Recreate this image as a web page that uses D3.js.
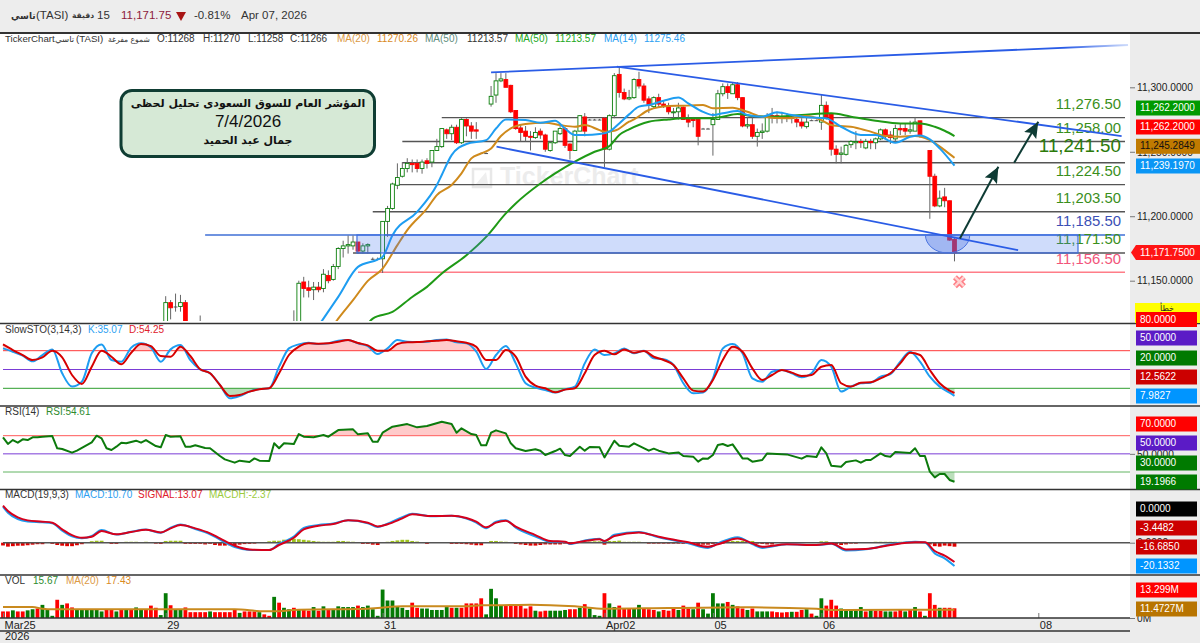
<!DOCTYPE html>
<html>
<head>
<meta charset="utf-8">
<script src="https://cdn.jsdelivr.net/npm/d3@7"></script>
<style>
  html, body { margin: 0; padding: 0; background: #ececec; }
  svg { display: block; }
  text { font-family: "Liberation Sans", Arial, sans-serif; }
  text.ar { font-family: "DejaVu Sans", sans-serif; }
</style>
</head>
<body>
<div id="chart"></div>
<script>
// date axis
var dateBars = [0, 33, 77, 122, 144, 166, 210];
var dateLabels = ['Mar25', '29', '31', 'Apr02', '05', '06', '08'];

// candles, first value belongs to bar 33, null = below the visible range
var firstCandleBar = 33;
var opens = [
  11114,11133,11130,11130,11133,null,null,11112,null,null,
  null,null,null,null,null,null,null,null,null,null,
  null,null,null,null,null,null,11105,11110,11149,11144.5,
  11143,11145,11144,11154,11151,11161,11175,11177,11177,11180,
  11173,11177,11167,11167,11167,11196,11206,11224,11231,11237,
  11241,11241,11237,11243,11242,11251,11254,11267,11264,11269,
  11257,11275,11270,11267,11249,11249,11287,11294,11305,11306,
  11301.5,11282,11268.5,11266,11262,11261,11266,11263,11251,11257,
  11264,11268,11256,11251,11266,11277,11275,11275,11275,11276,
  11252,11278,11310,11296,11291,11292,11306,11301,11291,11285,
  11292,11287,11285.5,11280.5,11281,11284.5,11275,11275,11275,11268,
  11268,11271,11275,11295,11300.5,11295,11302,11292,11270,11271,
  11262,11265,11266,11278,11278,11277,11277,11277,11275,11273,
  11269.5,11274.5,11274.5,11273,11286,11279,11252,11248,11248,11255.5,
  11257,11258,11253,11258,11257,11260,11267,11263,11260,11268,
  11268,11266,11266,11274,null,11251,11231,11208,11215,11212,
  11182
];
var highs = [
  11138,11135,11140,11139,11135,null,null,11123,null,null,
  null,null,null,null,null,null,null,null,null,null,
  null,null,null,null,null,null,11127,11150,11153,11150,
  11149,11149,11159,11158,11163,11176,11181,11185,11185,11180,
  11179,11179,11168,11168,11196,11208,11226,11241,11242,11245,
  11244,11244,11244,11245,11251,11260,11268,11268,11271,11271,
  11276,11276,11273,11273,11249.5,11249.5,11301,11311,11311,11311,
  11302,11282,11271,11270,11266,11269,11268,11264,11258,11266,
  11270,11269.5,11256.5,11267,11278.5,11280,11275.5,11275.5,11275.5,11277,
  11279,11311,11316,11299,11298,11307,11312,11303,11293,11293,
  11295,11290,11288,11284,11288,11285,11279,11277,11276,11268.5,
  11268.5,11280,11298,11303,11303,11304,11304,11292,11277,11277,
  11268,11272,11280,11284,11281,11281,11280,11279,11277,11276,
  11277,11275,11275,11294,11289,11279,11255,11254,11256,11259,
  11266,11260,11260,11260,11261,11268,11268,11266,11271,11272,
  11272,11274,11277,11274,null,11251,11233,11220,11222,11212,
  11183
];
var lows = [
  11110,11120,11126,11126,11110,null,null,11108,null,null,
  null,null,null,null,null,null,null,null,null,null,
  null,null,null,null,null,null,11100,11105,11137,11137,
  11135,11141,11141,11148,11150,11159,11168,11171,11174,11171,
  11171,11171,11166,11166,11156,11184,11205,11221,11230,11234,
  11234,11234,11233,11237,11238,11251,11253,11260,11259,11256,
  11256,11262,11260,11260,11248.5,11248.5,11285,11288,11304,11300,
  11280,11267,11258,11258,11251,11260,11260,11250,11250,11256,
  11263,11253,11244,11251,11266,11262,11274.5,11274.5,11274.5,11238,
  11251,11276,11292,11290,11290,11291,11299,11288,11280,11284,
  11284,11284,11279,11275,11275,11275,11269,11269,11255,11267.5,
  11267.5,11247,11275,11293,11291,11295,11290,11269,11268,11260,
  11254,11260,11265,11272,11272,11272,11273,11272,11269,11268,
  11268,11274,11274,11267,11275,11247,11241,11241,11247,11253,
  11252,11253,11252,11252,11252,11259,11260,11256,11257,11263,
  11263,11264,11266,11261,null,11198,11207,11207,11207,11181,
  11165
];
var closes = [
  11133,11129,11130,11133,11112,null,null,11114,null,null,
  null,null,null,null,null,null,null,null,null,null,
  null,null,null,null,null,null,11110,11148,11144,11142.5,
  11145,11143,11155,11150,11161,11175,11177,11178,11180,11173,
  11177,11178,11167,11167,11196,11206,11225,11230,11237,11241,
  11240,11237,11242,11241,11251,11254,11268,11264,11269,11257,
  11275,11270,11266,11266,11249,11249,11293,11305,11306.5,11300,
  11281,11268,11265,11262,11261.5,11265,11263,11252,11257,11266,
  11268,11255,11251,11266,11278,11266,11275,11275,11275,11252,
  11278,11309,11296,11291,11292,11306,11301,11290,11286,11292,
  11287,11285.5,11281,11281,11284,11275,11273,11274.5,11262,11268,
  11268,11275,11295,11300.5,11296,11302,11292,11270,11271,11262,
  11265,11266,11278,11277,11277,11276.5,11276,11276,11273,11270,
  11273,11274.5,11274.5,11286,11277,11252,11248,11249,11255,11258,
  11258,11257,11258,11257,11260,11267,11262,11261,11268,11267,
  11266,11267,11273,11262,null,11231,11208,11214,11212,11181.5,
  11171.75
];

// moving averages on the price panel
var ma14Bars = [62,65,68,72,76,77,79,84,88,89,91,94,98,100,102,106,109,112,114,116,118,121,123,125,127,129,131,134,137,139,142,144,146,149,151,154,157,160,163,167,170,174,177,181,184,186,188,190,193];
var ma14Vals = [11103.8,11120.6,11137.5,11160.7,11166.4,11168.5,11185.3,11203.4,11224.2,11232,11247.4,11256,11259,11268,11275,11274.6,11272.5,11274,11268,11263,11263,11263.7,11265.6,11272,11279,11285,11286.3,11289.6,11292,11287.6,11281,11278.5,11279.8,11281.6,11278.5,11277.2,11280.6,11278.5,11276.7,11275.9,11269.4,11263,11263,11257,11261.7,11262.7,11259.6,11252.6,11239.2];
var ma20Bars = [65,68,71,74,77,80,82,86,88,91,93,95,97,99,101,103,106,110,113,116,118,121,122,124,127,128,131,135,138,142,144,148,151,154,159,163,166,168,173,176,179,182,185,188,191,193];
var ma20Vals = [11103.8,11120.6,11134.9,11149.9,11159.4,11177.6,11189.2,11206,11216.4,11224.2,11233.2,11244.9,11248.7,11252.6,11262.2,11268.1,11271.5,11272.5,11270.7,11269.4,11270.7,11266.8,11265.6,11266.3,11273.3,11275.1,11282.4,11285.5,11285.7,11286.3,11283.7,11284.2,11281,11277.2,11275.9,11277.7,11274.6,11270.7,11268.7,11265.6,11262.2,11261.7,11262.2,11259.1,11251.3,11245.28];
var ma50Bars = [72,75,79,83,86,89,94,98,102,104,109,112,116,120,123,125,127,131,135,138,143,146,149,152,156,162,168,172,177,182,186,189,191,193];
var ma50Vals = [11103.8,11120.6,11125.8,11137.4,11145.2,11155.6,11169.8,11184,11202.2,11209.9,11225.4,11233.2,11242.3,11250,11254.4,11263,11267.4,11273.3,11275.1,11275.9,11275.9,11277.2,11279.3,11277.7,11277.2,11278.5,11279.8,11277.2,11274.1,11272,11272,11269.4,11266.3,11262.2];

// price levels drawn on the chart
var levelPrices = [11276.5, 11258, 11241.5, 11224.5, 11203.5, 11185.5, 11171.5, 11156.5];
var levelStartBars = [89, 81, 81, 80, 75, 41, 71, 72];
var levelLabels = ['11,276.50', '11,258.00', '11,241.50', '11,224.50', '11,203.50', '11,185.50', '11,171.50', '11,156.50'];

// drawn trend lines and arrows, in bars and prices: [bar1, price1, bar2, price2]
var trendLines = [
  [99, 11311.6, 228.2, 11332.8],
  [124.5, 11316, 226.9, 11262.2],
  [100.1, 11253.9, 205.9, 11173.7]
];
var arrows = [
  [194.1, 11182.8, 201.9, 11238.4],
  [205.1, 11241.5, 210, 11273.3]
];

// stochastic, every second bar and the last one
var stoBars = d3.range(0, 193, 2).concat(193);
var kVals = [
  83.7,78.4,72,63,73.1,82.1,43.9,22.7,30.6,75.8,
  90,65.1,62.5,84.8,91.7,85.3,62.5,82.1,89,65.1,
  50.3,43.9,25.3,4.1,7.8,14.7,18.9,20,54.5,83.7,
  90.1,92.7,90.6,91.7,95.9,97,91.7,87.4,74.7,83.7,
  97,94.3,93.8,94.3,97,98,93.3,91.7,78.4,50.8,
  73.1,87.4,59.8,28,21,17.3,13.1,18.4,22.7,59.8,
  82.1,73.1,75.8,83.7,75.8,80,67.8,66.2,57.2,28,
  12,13.1,35.9,83.7,90.6,75.8,35.9,30.6,46.5,49.2,
  43.9,37.5,43.9,65.1,54.5,14.7,22.7,28,29,38.6,
  42.8,62.5,78.4,62.5,38.6,22.7,13.1,7.98
];
var dVals = [
  90.1,81.1,73.1,65.1,69.4,80,69.4,41.2,26.9,54.5,
  80,70.4,58.2,76.8,90.6,87.4,71.5,70.4,86.4,71.5,
  50.3,43.9,25.3,7.8,9.4,14.7,18.4,20,43.9,73.1,
  86.4,91.7,91.2,91.7,94.3,97,92.2,88.5,80,80,
  90.6,93.3,93.8,94.9,95.9,97,94.9,92.7,86.4,65.1,
  65.1,81.1,70.4,38.6,24.2,20,13.6,17.9,20,43.9,
  73.1,80,74.2,82.1,76.8,79.5,70.4,65.1,57.2,35.9,
  16.3,14.7,33.3,65.1,86.4,78.4,51.9,33.3,41.2,49.2,
  45,39.6,41.2,54.5,57.2,28,22.7,29,29.6,35.9,
  43.9,59.8,76.8,73.1,49.2,28,16.3,12.56
];

// RSI
var rsiBars = [0,1,2,3,4,5,6,7,8,10,11,12,14,15,18,19,20,21,22,23,24,25,27,28,29,31,32,33,34,36,37,38,39,41,42,44,45,47,48,50,51,52,54,55,56,57,59,60,61,63,65,66,68,71,72,74,75,76,77,79,82,84,86,89,91,92,93,95,96,97,98,99,100,
  102,103,104,106,108,109,110,112,113,114,115,117,118,119,121,122,124,125,127,128,131,132,133,135,137,138,140,141,142,143,144,145,146,147,148,150,151,152,154,155,159,162,163,165,166,167,168,170,171,173,174,175,176,178,179,180,181,184,185,186,187,188,189,190,191,192,193];
var rsiVals = [68.2,60.9,65.2,62.3,66,65.2,68.2,68.2,68.9,69.6,56.1,55.3,51.3,53.5,62.7,70,67.1,56.1,54.2,57.9,62.3,61.6,64.5,62.3,65.2,58.6,57.2,70.7,68.9,69.3,57.9,57.9,59.4,56.4,56.1,47.6,43.9,40.3,42.5,41,45,42.5,42.1,61.6,56.1,61.6,60.8,71.8,68.9,68.2,70.7,68.9,76.2,77,71.5,72.6,63.4,63.4,73.3,79.9,82.8,79.2,80.6,85.4,82.8,73.3,78.1,71.8,70.7,59.4,59.4,73.3,75.9,
  72.6,61.6,56.1,53.1,55,53.5,48.7,53.1,55.7,48.7,47.6,57.9,53.5,57.5,57.2,46.1,64.5,59,57.9,61.6,53.5,55.7,53.5,50.5,51.6,47.6,46.9,41.4,45,44.7,48.7,59.7,60.8,58.6,60.5,45,45,41.4,43.2,50.5,49.4,44.7,47.6,46.5,57.2,50.5,37,35.9,41,42.8,40.3,43.2,43.2,50.5,47.6,46.9,52,50.9,56.1,47.6,47.6,30.4,24.1,27.8,27.8,21.2,19.2];

// MACD
var macdBars = [0,1,3,5,8,10,12,14,16,18,20,23,26,29,32,34,36,39,42,44,47,50,54,56,59,61,64,67,70,74,76,78,81,83,87,91,94,96,98,100,
  102,104,108,111,114,115,118,121,122,124,129,133,139,143,145,149,152,154,159,165,168,171,175,180,185,187,189,191,193];
var macdVals = [31,25.9,20.5,18.4,17.6,16.8,10.5,5.5,3.8,5.8,11,7,9.4,11.4,8.5,13,15.8,11.8,7.3,2.7,-3.8,-6.2,-6.3,-1,5.2,12.8,15.3,16.5,19.5,16.8,13.5,16.5,22,25,22.9,23.3,20.8,17.4,12.5,18.2,
  19.4,13,5.4,0.8,0.7,-1.2,2,3.4,1,6.8,9.2,4.6,-0.4,-4.5,-0.6,4.8,-1.2,-4.5,-1.4,-2,-1,-6.8,-5.7,-1.6,0.9,0.1,-9.2,-13.5,-20.13];
var signalVals = [32,27.4,21.9,19.3,18.2,17.3,11.5,6.6,4.3,5.2,10.1,7.2,9.2,11.2,8.9,12.4,15.3,12.4,8.1,3.7,-2.6,-5.8,-6.3,-2,4.3,11.5,14.7,16.1,19.3,17.3,14.1,15.9,21,24.5,23,23.3,21.3,18.2,13.3,17.3,
  19,13.8,6.6,1.4,0.9,-0.6,1.4,2.9,1.4,5.8,8.9,5.2,0.3,-3.5,-1.4,3.7,-0.6,-3.5,-1.4,-2,-0.6,-5.8,-5.5,-2,0.3,0.3,-7.2,-11.2,-16.69];
var histVals = [
  -2.4,-3.4,-3,-2.6,-2.6,-2.2,-1.7,-1.3,-1.3,0,
  -1,-2,-2.6,-3,-3,-2.2,-1.3,0,1.3,1.7,
  1.7,0,-1,-1,0,0.8,0.8,0.8,0,0.8,
  0,-0.8,-1,1.5,1.7,1.7,1.7,-1,-1,-1,
  -1,-1.5,-1,-2,-2.5,-2.5,-2.2,-2.2,-1.7,-1.2,
  -1,-0.8,0,0,1.2,1.7,1.7,2.6,2.6,3.4,
  3,2.5,2,1.5,1,0.8,0.8,0.8,1.5,1.5,
  1,0.8,0,-1,-1,-1.7,-2,0,0.8,1.5,
  2,2.5,2.5,1.5,1,0,-1,0,0,0,
  0,-1,-1,-1,-1.3,-1.7,-2.2,-2.2,0,1.5,
  1.5,1,0.8,0,-1,-1.5,-2,-2.5,-2.5,-2,
  -1.5,-1.5,-1.5,-1.5,-0.8,0,-0.8,0,0.8,1,
  1.2,1.2,-1.7,1.5,1.5,1.8,0.8,0.8,0.8,0.8,
  0,-0.8,-0.8,-0.8,-0.8,-0.8,-0.8,-0.8,-1,-1,
  -1.7,-1.7,-1.7,-1.7,-1,-1,-0.8,1.5,1.5,1.5,
  1.5,1.5,1.5,-0.8,-1,-1.5,-1.5,0,0,0,
  0,0,0,0,0,0,1.2,1.2,-1,-1.5,
  -2,-1.5,-0.8,-0.8,0,0,0,0.8,0.8,0.8,
  0.8,0.8,0.8,0.8,0.8,0.8,0.8,0,-1.5,-3,
  -3.4,-2.5,-3,-3.45
];

// volume in millions, u = up bar, d = down bar
var volumes = [
  9,9,10.5,9,9,10.5,12,13,18,11,
  3,25,18,20,14.5,11,11,11,11,11,
  9,11,11,9,11,12,12,14.5,11,11,
  17,14,4,34,17.5,11,11,14.5,8,8,
  8,8,9,8,8,8,8,11,7,9,
  9,9,8,5,3,29,21,14,12,14,
  12,12,10,15,10,16,11,11,16,15,
  15,15,17,15,17,12,3,39,24,24,
  16,14,11,21,14,13,13,11,11,11,
  15,14,14,14,20,20,20,27,5,40,
  27,17,17,17,17,17,13,16,10,9,
  10,10,10,10,11,12,12,14,19,13,
  4,3,34,20,15,17,13,13,13,18,
  13,12,11,9,11,10,13,11,17,13,
  12,21,12,6,34,20,20,22,18,16,
  13,11,13,9,9,9,9,8,7.5,8,
  8.5,8.5,11,12,6,3,27,17,25,17,
  13,11,11,11,15,9,11,10,10,9,
  9,9,11,9,11,15,9,3,34,18,
  14,14,14,13.3
];
var volSides = [
  'ddudduuduu','ududduuuuu','uddududuud','dduuduuddd','ddudddddud',
  'ddudduduud','uddududuuu','uuduuuuuuu','uuudduuuuu','ududdddduu',
  'uuddddddud','duuuuddudu','uuduuddduu','dddudddudd','uduuuuudud',
  'duduuudddd','udduduuddd','uuuuududdu','uddudududd','uddd'
].join('');
var volMaBars = [0,6,8,10,47,53,55,60,74,76,81,94,97,100,107,116,122,135,152,165,168,182,193];
var volMaVals = [15,15,12.8,11.9,11.9,9.1,9.1,11.4,12.8,13.7,16,16,17.4,17.4,18.3,16,12.8,13.7,14.6,12.8,11,11.4,11.47];

// axis ticks and last value tags
var priceTicks = [11150, 11200, 11250, 11300];
var stoLevels = [80, 50, 20];
var rsiLevels = [70, 50, 30];

var width = 1200, height = 643;
var plotRight = 1130;
var svg = d3.select('#chart').append('svg').attr('width', width).attr('height', height);

var x = d3.scaleLinear().domain([0, 210]).range([3, 1038.3]);
var yPrice = d3.scaleLinear().domain([11150, 11300]).range([280.7, 87.3]);
var ySto = d3.scaleLinear().domain([20, 80]).range([388.3, 350.7]);
var yRsi = d3.scaleLinear().domain([30, 70]).range([472, 435.7]);
var yMacd = d3.scaleLinear().domain([-20.13, 0]).range([566, 542.7]);
var yVol = d3.scaleLinear().domain([0, 13.3]).range([618, 608.3]);

var levelColor = '#555';

// page background and panels
svg.append('rect').attr('width', width).attr('height', height).attr('fill', '#ececec');
svg.append('rect').attr('x', 0).attr('y', 34).attr('width', plotRight).attr('height', 584).attr('fill', '#fff');

var defs = svg.append('defs');
function addClip(id, top, bottom) {
  defs.append('clipPath').attr('id', id).append('rect')
    .attr('x', 0).attr('y', top).attr('width', plotRight).attr('height', bottom - top);
}
addClip('clip-price', 34, 321);
addClip('clip-sto-hi', 324, ySto(80));
addClip('clip-sto-lo', ySto(20), 406);
addClip('clip-rsi-hi', 407, yRsi(70));
addClip('clip-rsi-lo', yRsi(30), 489);

defs.append('marker').attr('id', 'arrowhead')
  .attr('markerUnits', 'userSpaceOnUse')
  .attr('viewBox', '0 0 16 14').attr('refX', 16).attr('refY', 7)
  .attr('markerWidth', 16).attr('markerHeight', 14).attr('orient', 'auto')
  .append('path').attr('d', 'M0,0 L16,7 L0,14 L3,7 Z').attr('fill', '#0e3b34');

var fade = defs.append('linearGradient').attr('id', 'trend-fade')
  .attr('gradientUnits', 'userSpaceOnUse')
  .attr('x1', x(99)).attr('y1', 0).attr('x2', x(228.2)).attr('y2', 0);
fade.append('stop').attr('offset', '0.9').attr('stop-color', '#2a5ce6');
fade.append('stop').attr('offset', '1').attr('stop-color', '#cfdcfb');

function label(g, px, py, str, color, size, cls, anchor, weight) {
  return g.append('text').attr('x', px).attr('y', py)
    .attr('dominant-baseline', 'middle')
    .attr('class', cls || null)
    .attr('text-anchor', anchor || 'start')
    .attr('font-size', size)
    .attr('font-weight', weight || null)
    .attr('fill', color).text(str);
}

function drawSeries(g, bars, vals, yScale, color, strokeWidth, curve) {
  var line = d3.line()
    .x(function(d) { return x(bars[d]); })
    .y(function(d) { return yScale(vals[d]); })
    .curve(curve || d3.curveMonotoneX);
  g.append('path').attr('d', line(d3.range(bars.length)))
    .attr('fill', 'none').attr('stroke', color).attr('stroke-width', strokeWidth)
    .attr('stroke-linejoin', 'round');
}

function drawFill(g, bars, vals, yScale, level, color, clip, curve) {
  var area = d3.area()
    .x(function(d) { return x(bars[d]); })
    .y0(yScale(level))
    .y1(function(d) { return yScale(vals[d]); })
    .curve(curve || d3.curveMonotoneX);
  g.append('path').attr('d', area(d3.range(bars.length)))
    .attr('fill', color).attr('clip-path', 'url(#' + clip + ')');
}

// header strip
var head = svg.append('g');
head.append('rect').attr('width', width).attr('height', 32).attr('fill', '#ededed');
label(head, 11, 16, 'تاسي', '#333', 9, 'ar', 'start', 'bold');
label(head, 36, 16, '(TASI)', '#333', 11.5);
label(head, 72, 16, 'دقيقة', '#333', 7.6, 'ar', 'start', 'bold');
label(head, 97, 16, '15', '#333', 11.5);
label(head, 121, 16, '11,171.75', '#8e1b3c', 11.5);
head.append('path').attr('d', 'M176,12 L186,12 L181,21 Z').attr('fill', '#a81414');
label(head, 194, 16, '-0.81%', '#333', 11.5);
label(head, 241, 16, 'Apr 07, 2026', '#333', 11.5);

// legend of the price panel
var legend = svg.append('g');
label(legend, 5, 39.5, 'TickerChart', '#333', 9.7);
label(legend, 55, 39.5, 'تاسي', '#333', 8.5, 'ar');
label(legend, 76, 39.5, '(TASI)', '#333', 9.7);
label(legend, 108, 39.5, 'شموع مفرغة', '#333', 7.6, 'ar');
[['O:11268', 157, '#333'], ['H:11270', 203, '#333'], ['L:11258', 248, '#333'], ['C:11266', 290, '#333'],
 ['MA(20)', 337, '#dc9a45'], ['11270.26', 377, '#d98a1f'],
 ['MA(50)', 425, '#5f8e7e'], ['11213.57', 467, '#333'],
 ['MA(50)', 515, '#22a822'], ['11213.57', 555, '#22a822'],
 ['MA(14)', 604, '#2c9ff2'], ['11275.46', 644, '#2c9ff2']].forEach(function(t) {
  label(legend, t[1], 39.5, t[0], t[2], 10);
});

// watermark
var mark = svg.append('g');
mark.append('rect').attr('x', 473).attr('y', 169).attr('width', 18).attr('height', 18)
  .attr('fill', 'none').attr('stroke', '#e8e8e8').attr('stroke-width', 2.5);
mark.append('path').attr('d', 'M476,184 L486,172 L488,184 Z').attr('fill', '#efefef');
label(mark, 500, 178, 'TickerChart', '#ececec', 25, null, 'start', 'bold');

// price panel
var price = svg.append('g').attr('clip-path', 'url(#clip-price)');
var levelEnd = 1125;

price.selectAll('line.level').data(levelPrices).enter().append('line')
  .attr('class', 'level')
  .attr('x1', function(d, i) { return x(levelStartBars[i]); })
  .attr('x2', levelEnd)
  .attr('y1', function(d) { return yPrice(d); })
  .attr('y2', function(d) { return yPrice(d); })
  .attr('stroke', function(d, i) { return i === 5 ? '#3f6fd6' : i === 7 ? '#ff7d88' : levelColor; })
  .attr('stroke-width', 1.4);

var levelTextColors = ['#3a8f1c', '#3a8f1c', '#2c7a0a', '#3a8f1c', '#3a8f1c', '#3b4fb5', '#3a8f1c', '#f2557a'];
levelPrices.forEach(function(p, i) {
  var big = i === 2;
  label(price, 1121, yPrice(p) + (big ? -15.7 : -12.7), levelLabels[i], levelTextColors[i], big ? 18.8 : 14.9, null, 'end');
});

var candles = d3.range(opens.length).filter(function(i) { return opens[i] !== null; });
var candleG = price.append('g');
candleG.selectAll('line').data(candles).enter().append('line')
  .attr('x1', function(i) { return x(i + firstCandleBar); })
  .attr('x2', function(i) { return x(i + firstCandleBar); })
  .attr('y1', function(i) { return yPrice(highs[i]); })
  .attr('y2', function(i) { return yPrice(lows[i]); })
  .attr('stroke', '#666').attr('stroke-width', 1);
candleG.selectAll('rect').data(candles).enter().append('rect')
  .attr('x', function(i) { return x(i + firstCandleBar) - 1.9; })
  .attr('width', 3.8)
  .attr('y', function(i) { return yPrice(Math.max(opens[i], closes[i])); })
  .attr('height', function(i) { return Math.max(1, Math.abs(yPrice(opens[i]) - yPrice(closes[i]))); })
  .attr('fill', function(i) {
    if (opens[i] === closes[i]) return '#555';
    return closes[i] > opens[i] ? '#fff' : '#ff0000';
  })
  .attr('stroke', function(i) {
    if (opens[i] === closes[i]) return 'none';
    return closes[i] > opens[i] ? '#0b7f0b' : '#ff0000';
  })
  .attr('stroke-width', 0.9);

drawSeries(price, ma50Bars, ma50Vals, yPrice, '#1f9a16', 2);
drawSeries(price, ma20Bars, ma20Vals, yPrice, '#cf8a1c', 2);
drawSeries(price, ma14Bars, ma14Vals, yPrice, '#1e9df1', 2);

// support zone
price.append('rect')
  .attr('x', x(71.8)).attr('width', 1078 - x(71.8))
  .attr('y', yPrice(levelPrices[5])).attr('height', yPrice(levelPrices[6]) - yPrice(levelPrices[5]))
  .attr('fill', 'rgba(70,120,240,0.26)').attr('stroke', '#3f6fe0').attr('stroke-width', 1.2);

// half circle at the touch point
var arcTop = yPrice(levelPrices[5]), arcLeft = x(187.1), arcRight = x(196.1);
price.append('path')
  .attr('d', 'M' + arcLeft + ',' + arcTop + ' A' + (arcRight - arcLeft) / 2 + ',' + (yPrice(levelPrices[6]) - arcTop) + ' 0 0 0 ' + arcRight + ',' + arcTop + ' Z')
  .attr('fill', 'rgba(65,105,225,0.32)').attr('stroke', '#4a74e0').attr('stroke-width', 1);

// trend lines
price.selectAll('line.trend').data(trendLines).enter().append('line')
  .attr('class', 'trend')
  .attr('x1', function(d) { return x(d[0]); }).attr('y1', function(d) { return yPrice(d[1]); })
  .attr('x2', function(d) { return x(d[2]); }).attr('y2', function(d) { return yPrice(d[3]); })
  .attr('stroke', function(d, i) { return i === 0 ? 'url(#trend-fade)' : '#2a5ce6'; })
  .attr('stroke-width', 1.8);

// projected arrows
price.selectAll('line.arrow').data(arrows).enter().append('line')
  .attr('class', 'arrow')
  .attr('x1', function(d) { return x(d[0]); }).attr('y1', function(d) { return yPrice(d[1]); })
  .attr('x2', function(d) { return x(d[2]); }).attr('y2', function(d) { return yPrice(d[3]); })
  .attr('stroke', '#0e3b34').attr('stroke-width', 2).attr('marker-end', 'url(#arrowhead)');

// stop mark under the zone
var stopX = x(194), stopY = yPrice(11149.2);
var stopPath = 'M' + (stopX - 4.5) + ',' + (stopY - 4.5) + ' L' + (stopX + 4.5) + ',' + (stopY + 4.5) +
  ' M' + (stopX + 4.5) + ',' + (stopY - 4.5) + ' L' + (stopX - 4.5) + ',' + (stopY + 4.5);
price.append('path').attr('d', stopPath).attr('stroke', '#ff7f86').attr('stroke-width', 5.5).attr('fill', 'none');
price.append('path').attr('d', stopPath).attr('stroke', '#ffd3d3').attr('stroke-width', 2.5).attr('fill', 'none');

// note box
var note = svg.append('g');
note.append('rect').attr('x', 121).attr('y', 90.5).attr('width', 253.5).attr('height', 66).attr('rx', 11)
  .attr('fill', '#d6e9d6').attr('stroke', '#0f3d33').attr('stroke-width', 3);
label(note, 248, 104, 'المؤشر العام للسوق السعودى تحليل لحظى', '#111', 11, 'ar', 'middle', 'bold');
label(note, 248, 123, '7/4/2026', '#111', 17, null, 'middle');
label(note, 248, 141, 'جمال عبد الحميد', '#111', 11, 'ar', 'middle', 'bold');

// stochastic panel
var sto = svg.append('g');
drawFill(sto, stoBars, dVals, ySto, 80, 'rgba(255,80,80,0.3)', 'clip-sto-hi');
drawFill(sto, stoBars, dVals, ySto, 20, 'rgba(30,150,30,0.3)', 'clip-sto-lo');
sto.selectAll('line').data(stoLevels).enter().append('line')
  .attr('x1', 3).attr('x2', plotRight)
  .attr('y1', function(d) { return ySto(d); }).attr('y2', function(d) { return ySto(d); })
  .attr('stroke', function(d, i) { return ['#ff3b3b', '#7a3cd6', '#2f9e2f'][i]; });
drawSeries(sto, stoBars, kVals, ySto, '#1e9df1', 2);
drawSeries(sto, stoBars, dVals, ySto, '#d60000', 2);
label(sto, 5, 330, 'SlowSTO(3,14,3)', '#333', 10);
label(sto, 88, 330, 'K:35.07', '#2c9ff2', 10);
label(sto, 129, 330, 'D:54.25', '#e0202a', 10);

// RSI panel
var rsi = svg.append('g');
drawFill(rsi, rsiBars, rsiVals, yRsi, 70, 'rgba(255,80,80,0.3)', 'clip-rsi-hi', d3.curveLinear);
drawFill(rsi, rsiBars, rsiVals, yRsi, 30, 'rgba(30,150,30,0.3)', 'clip-rsi-lo', d3.curveLinear);
rsi.selectAll('line').data(rsiLevels).enter().append('line')
  .attr('x1', 3).attr('x2', plotRight)
  .attr('y1', function(d) { return yRsi(d); }).attr('y2', function(d) { return yRsi(d); })
  .attr('stroke', function(d, i) { return ['#ff5a5a', '#7a3cd6', '#63b463'][i]; });
drawSeries(rsi, rsiBars, rsiVals, yRsi, '#0c7a0c', 2, d3.curveLinear);
label(rsi, 5, 412, 'RSI(14)', '#333', 10);
label(rsi, 46, 412, 'RSI:54.61', '#2e8b2e', 10);

// MACD panel
var macd = svg.append('g');
macd.selectAll('rect').data(histVals).enter().append('rect')
  .attr('x', function(d, i) { return x(i) - 1.9; })
  .attr('width', 3.8)
  .attr('y', function(d) { return Math.min(yMacd(d), yMacd(0)); })
  .attr('height', function(d) { return Math.abs(yMacd(d) - yMacd(0)); })
  .attr('fill', function(d) { return d < 0 ? '#e00000' : '#9fc31e'; });
macd.append('line').attr('x1', 3).attr('x2', plotRight)
  .attr('y1', yMacd(0)).attr('y2', yMacd(0)).attr('stroke', '#555').attr('stroke-width', 1.4);
drawSeries(macd, macdBars, macdVals, yMacd, '#1e9df1', 2);
drawSeries(macd, macdBars, signalVals, yMacd, '#d6001c', 2);
label(macd, 5, 495.5, 'MACD(19,9,3)', '#333', 10);
label(macd, 75, 495.5, 'MACD:10.70', '#2c9ff2', 10);
label(macd, 138, 495.5, 'SIGNAL:13.07', '#e0202a', 10);
label(macd, 209, 495.5, 'MACDH:-2.37', '#9ccc3c', 10);

// volume panel
var vol = svg.append('g');
vol.selectAll('rect').data(volumes).enter().append('rect')
  .attr('x', function(d, i) { return x(i) - 1.9; })
  .attr('width', 3.8)
  .attr('y', function(d) { return yVol(d); })
  .attr('height', function(d) { return yVol(0) - yVol(d); })
  .attr('fill', function(d, i) { return volSides[i] === 'u' ? '#057a05' : '#ff0000'; });
drawSeries(vol, volMaBars, volMaVals, yVol, '#c98a1e', 2);
label(vol, 5, 581, 'VOL', '#333', 10);
label(vol, 33, 581, '15.67', '#2e8b2e', 10);
label(vol, 66, 581, 'MA(20)', '#dc9a45', 10);
label(vol, 106, 581, '17.43', '#d98a1f', 10);

// right axes
function styleAxis(g) {
  g.select('.domain').remove();
  g.selectAll('line').attr('stroke', '#777');
  g.selectAll('text').attr('fill', '#222').attr('font-size', 10.2)
    .attr('font-family', '"Liberation Sans", Arial, sans-serif');
}
svg.append('g').attr('transform', 'translate(' + plotRight + ',0)')
  .call(d3.axisRight(yPrice).tickValues(priceTicks).tickSize(5).tickPadding(2).tickFormat(d3.format(',.4f')))
  .call(styleAxis);
svg.append('g').attr('transform', 'translate(' + plotRight + ',0)')
  .call(d3.axisRight(yRsi).tickValues([50]).tickSize(5).tickPadding(2).tickFormat(d3.format('.4f')))
  .call(styleAxis);
svg.append('g').attr('transform', 'translate(' + plotRight + ',0)')
  .call(d3.axisRight(yMacd).tickValues([0]).tickSize(5).tickPadding(2).tickFormat(d3.format('.4f')))
  .call(styleAxis);
svg.append('g').attr('transform', 'translate(' + plotRight + ',0)')
  .call(d3.axisRight(yVol).tickValues([0]).tickSize(5).tickPadding(2).tickFormat(function() { return '0M'; }))
  .call(styleAxis);

// date axis
svg.append('rect').attr('x', 0).attr('y', 618).attr('width', plotRight).attr('height', 13).attr('fill', '#ececec');
var dateAxis = svg.append('g').attr('transform', 'translate(0,618)')
  .call(d3.axisBottom(x).tickValues(dateBars).tickSizeInner(-5).tickSizeOuter(0)
    .tickFormat(function(d, i) { return dateLabels[i]; }));
dateAxis.select('.domain').remove();
dateAxis.selectAll('line').attr('stroke', '#777');
dateAxis.selectAll('text').attr('text-anchor', 'start').attr('dx', 1).attr('y', 3)
  .attr('font-size', 11).attr('fill', '#222')
  .attr('font-family', '"Liberation Sans", Arial, sans-serif');
label(svg, 5, 637.5, '2026', '#222', 11);

// panel borders
[[33, width], [323.5, width], [406, width], [489.5, width], [575, width], [618, plotRight], [631, plotRight]].forEach(function(b) {
  svg.append('line').attr('x1', 0).attr('x2', b[1]).attr('y1', b[0]).attr('y2', b[0])
    .attr('stroke', '#333').attr('stroke-width', b[0] === 33 ? 2 : 1.5);
});

// last value tags on the right
var tagLeft = 1136, tagRight = 1197;
function tag(cy, str, fill, color, right) {
  svg.append('rect').attr('x', tagLeft).attr('y', cy - 7.5)
    .attr('width', (right || tagRight) - tagLeft).attr('height', 15).attr('fill', fill);
  label(svg, tagLeft + 4, cy + 0.5, str, color || '#fff', 10);
}
svg.append('rect').attr('x', 1135).attr('y', 303).attr('width', 65).attr('height', 20).attr('fill', '#ffff00');
label(svg, 1167, 308, 'خطأ', '#222', 8, 'ar', 'middle');
tag(108, '11,262.2000', '#009a00', '#fff', 1200);
tag(127, '11,262.2000', '#ff0000', '#fff', 1200);
tag(146.3, '11,245.2849', '#c07a00', '#111', 1200);
tag(166, '11,239.1970', '#0a96f5', '#fff', 1200);
svg.append('path').attr('d', 'M1131,252.5 L1136,245 L1200,245 L1200,260 L1136,260 Z').attr('fill', '#ff1414');
label(svg, 1140, 253, '11,171.7500', '#fff', 10);
tag(319.5, '80.0000', '#ff0000');
tag(338, '50.0000', '#5b1bc6');
tag(358, '20.0000', '#007a00');
tag(377, '12.5622', '#cc0000');
tag(396, '7.9827', '#0095ff');
tag(424, '70.0000', '#ff0000');
tag(443, '50.0000', '#5b1bc6');
tag(463, '30.0000', '#007a00');
tag(482, '19.1966', '#007a00');
tag(509, '0.0000', '#000');
tag(528, '-3.4482', '#cc0000');
tag(547, '-16.6850', '#cc0000');
tag(566, '-20.1332', '#0095ff');
tag(590, '13.299M', '#ff0000');
tag(609, '11.4727M', '#b87400');
</script>
</body>
</html>
